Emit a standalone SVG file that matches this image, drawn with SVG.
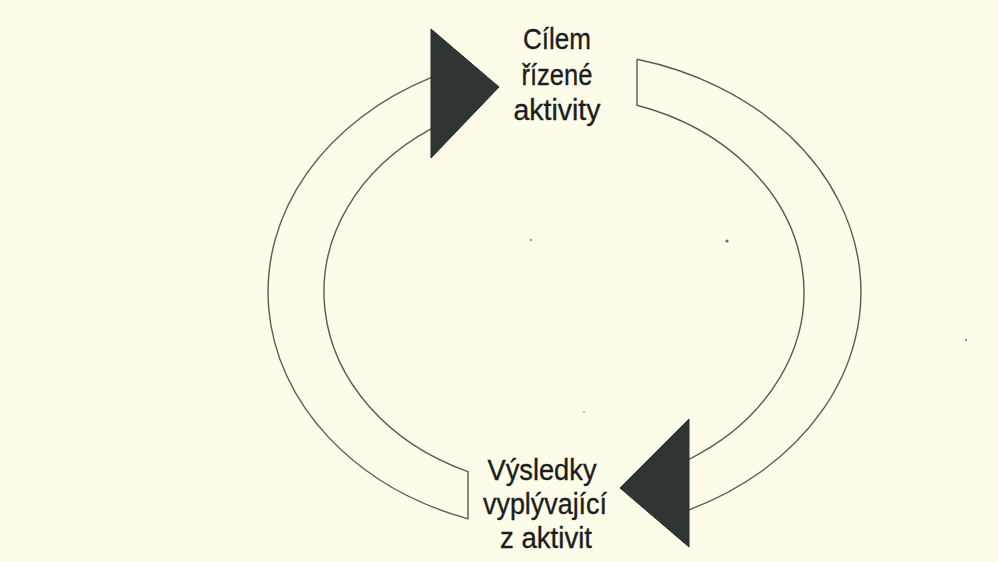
<svg xmlns="http://www.w3.org/2000/svg" width="998" height="562" viewBox="0 0 998 562">
  <style>
    .band { fill: none; stroke: #5a5a58; stroke-width: 1.4; stroke-linejoin: miter; }
    .head { fill: #2f3533; stroke: #2a2f2d; stroke-width: 1; }
    .label { font-family: "Liberation Sans", Arial, sans-serif; font-size: 30px; fill: #1c1c1c; stroke: #1c1c1c; stroke-width: 0.35; text-anchor: middle; }
  </style>
  <rect width="998" height="562" fill="#fcfce8"/>
  <!-- paper specks -->
  <g fill="#6b6b60">
    <circle cx="727" cy="241" r="1.6"/>
    <circle cx="531" cy="240" r="0.9"/>
    <circle cx="966" cy="340" r="1"/>
    <circle cx="584" cy="412" r="0.8"/>
  </g>
  <g id="connectors">
    <!-- left curved band: from the top arrowhead down to the lower label -->
    <path class="band" d="M431,77.7 A296.5,240 0 0,0 468,518.9 L468,471.6 A240,196 0 0,1 431,128.8"/>
    <!-- right curved band: from the upper label down to the bottom arrowhead -->
    <path class="band" d="M637,59.3 A296.5,240 0 0,1 689,509.8 M689,459.3 A240,196 0 0,0 637,105.3 L637,59.3"/>
    <polygon id="head-top" class="head" points="431,29 431,158 499,87"/>
    <polygon id="head-bottom" class="head" points="689,419 689,547 620,488"/>
  </g>
  <g id="node-goal">
    <text class="label" x="557" y="49" textLength="68" lengthAdjust="spacingAndGlyphs">Cílem</text>
    <text class="label" x="557" y="85" textLength="71" lengthAdjust="spacingAndGlyphs">řízené</text>
    <text class="label" x="557" y="120" textLength="87" lengthAdjust="spacingAndGlyphs">aktivity</text>
  </g>
  <g id="node-results">
    <text class="label" x="542" y="480" textLength="109" lengthAdjust="spacingAndGlyphs">Výsledky</text>
    <text class="label" x="545" y="514" textLength="124" lengthAdjust="spacingAndGlyphs">vyplývající</text>
    <text class="label" x="546" y="548" textLength="92" lengthAdjust="spacingAndGlyphs">z aktivit</text>
  </g>
</svg>
